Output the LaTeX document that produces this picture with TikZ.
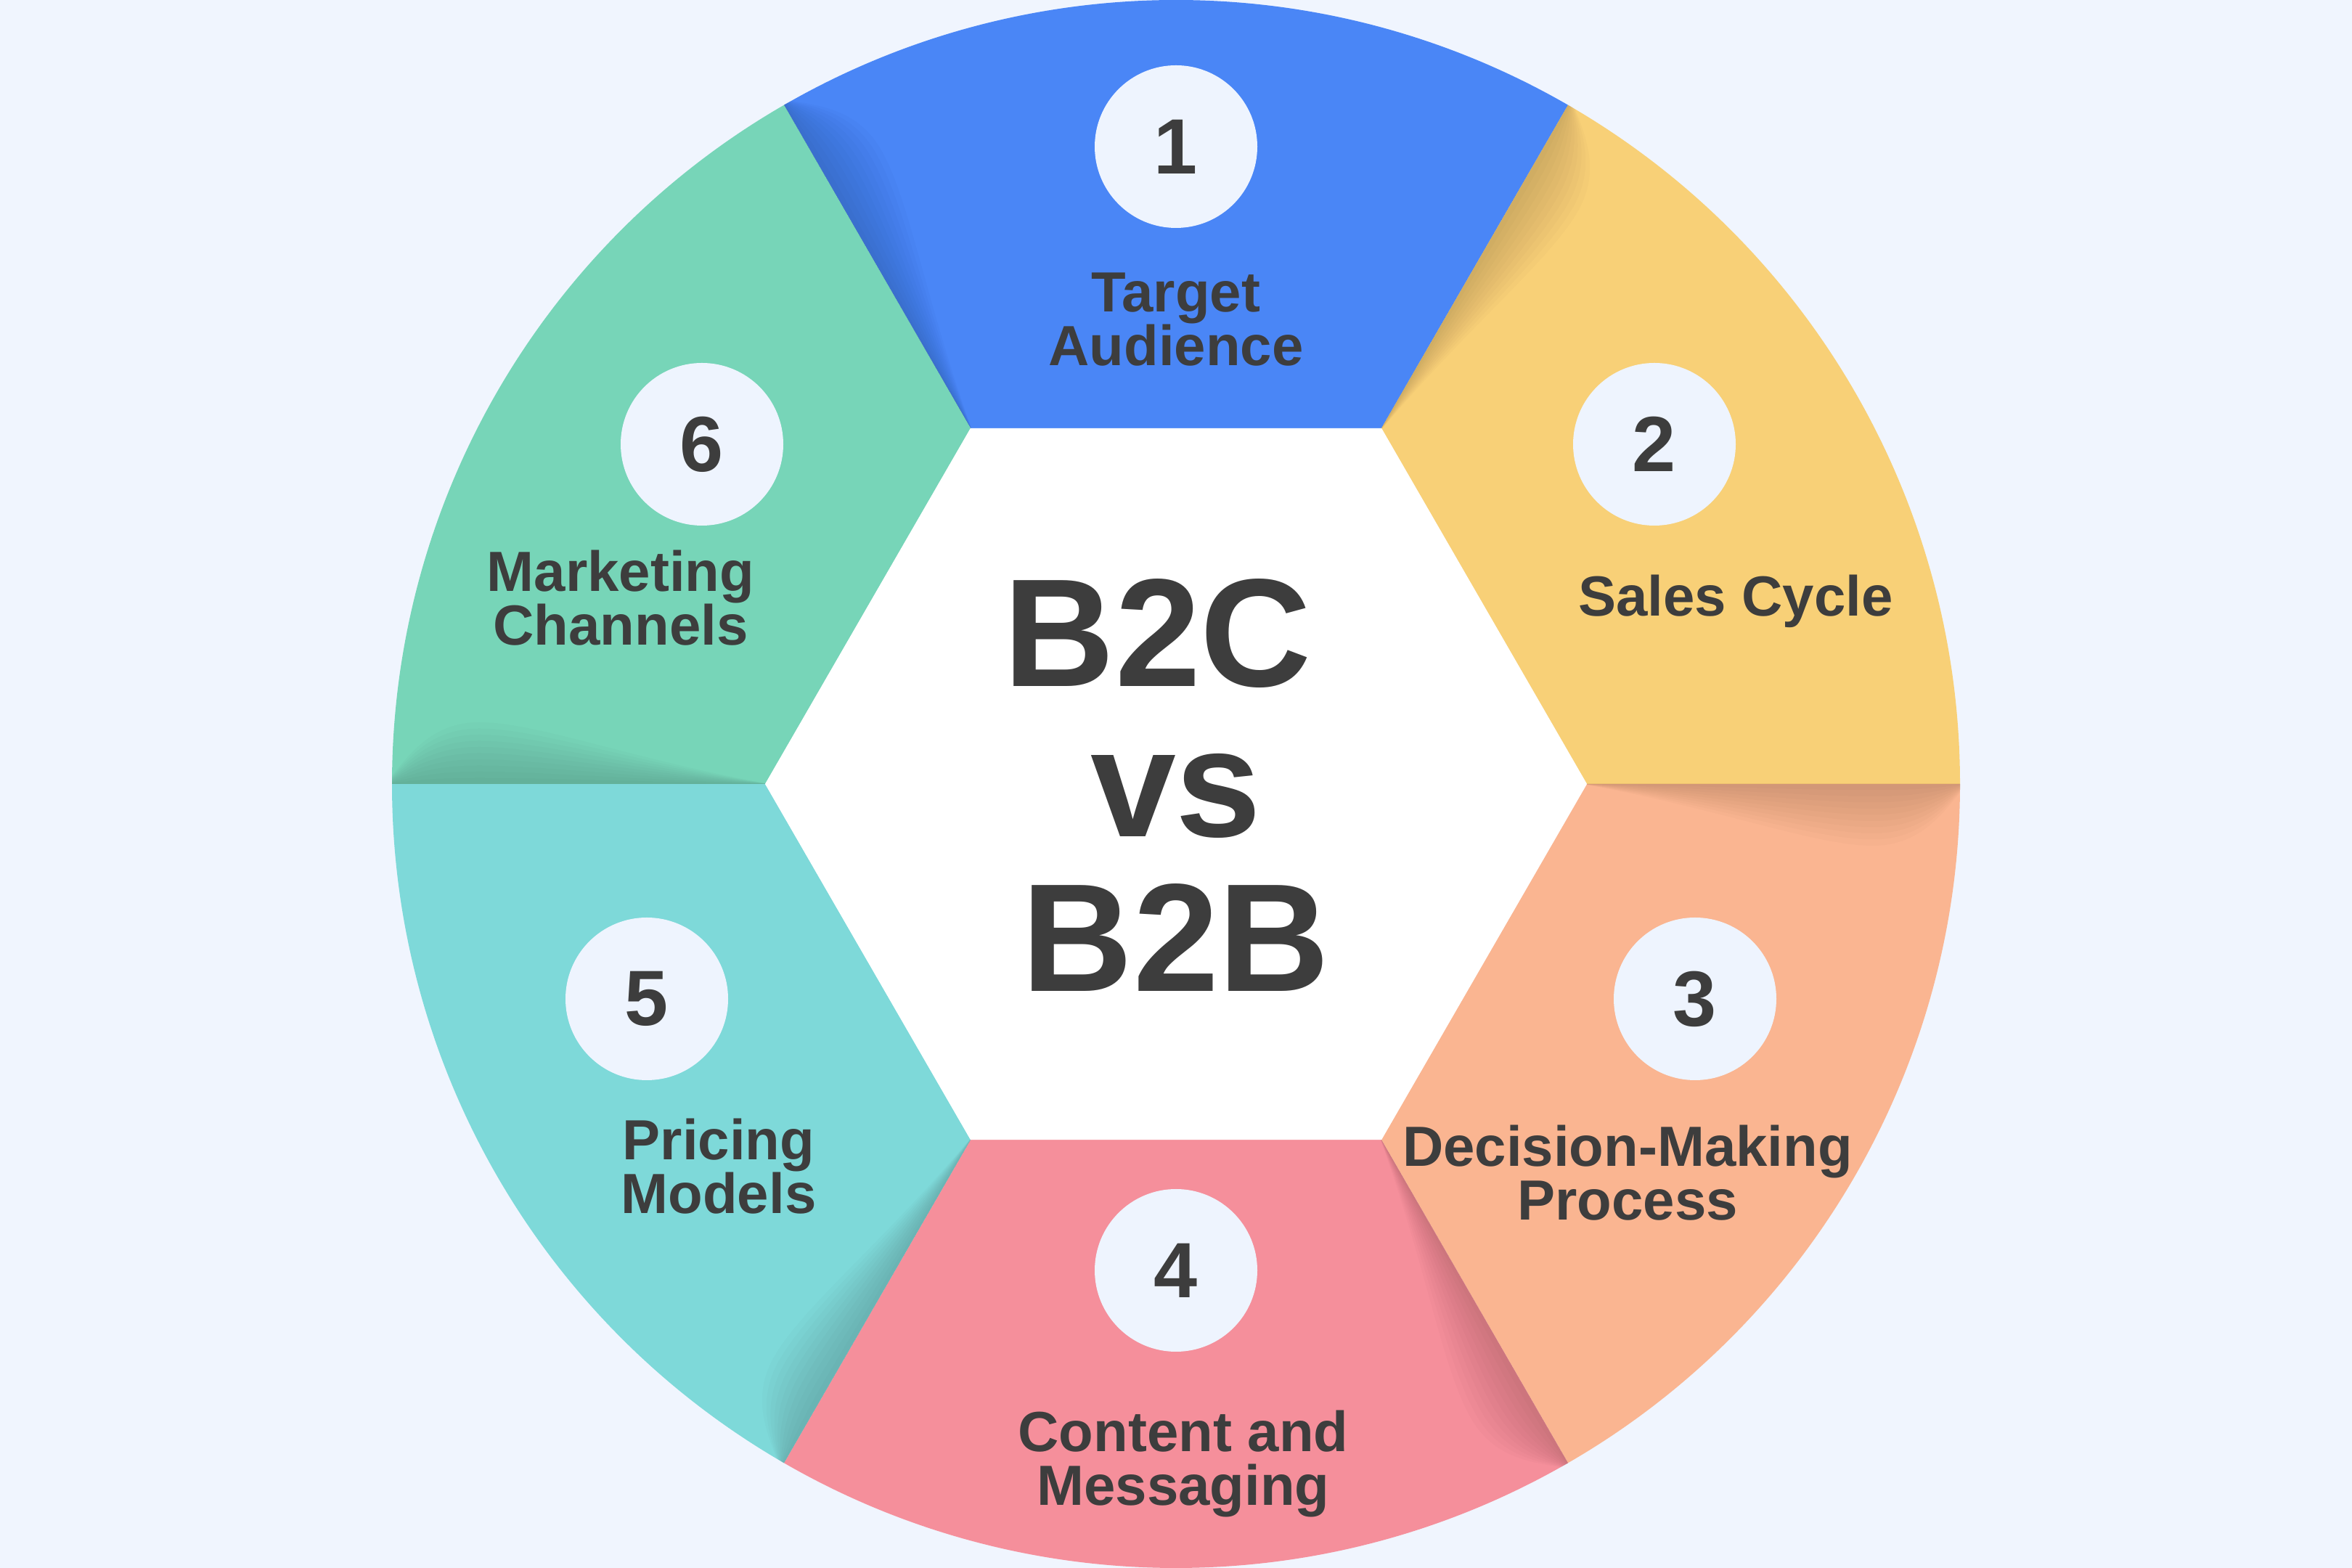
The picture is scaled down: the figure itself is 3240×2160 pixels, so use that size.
\documentclass[tikz,border=0pt]{standalone}
\usepackage{fontspec}
\setmainfont{Liberation Sans}
\definecolor{bg}{HTML}{F0F5FE}
\definecolor{segblue}{HTML}{4A86F6}
\definecolor{segyellow}{HTML}{F8D077}
\definecolor{segorange}{HTML}{FAB591}
\definecolor{segpink}{HTML}{F58F9B}
\definecolor{segteal}{HTML}{7ED9D9}
\definecolor{seggreen}{HTML}{77D5B8}
\definecolor{numbg}{HTML}{EEF4FE}
\definecolor{txt}{HTML}{3D3D3D}
\begin{document}
\begin{tikzpicture}[x=1pt,y=1pt,
  lbl/.style={font=\bfseries\fontsize{78}{74}\selectfont, text=txt, align=center, inner sep=0pt},
  numcirc/.style={circle, fill=numbg, minimum size=224pt, inner sep=0pt, text=txt, font=\bfseries\fontsize{108}{108}\selectfont},
  big/.style={font=\bfseries\fontsize{212}{212}\selectfont, text=txt, inner sep=0pt, anchor=base}]
\useasboundingbox (0,0) rectangle (3240,2160);
\fill[bg] (0,0) rectangle (3240,2160);
\coordinate (O) at (1620,1080);
% segments
\foreach \a/\c in {60/segblue, 0/segyellow, -60/segorange, -120/segpink, 180/segteal, 120/seggreen} {
  \fill[\c] ([shift={(\a:566)}]O) -- ([shift={(\a:1080)}]O) arc[start angle=\a, end angle=\a+60, radius=1080] -- ([shift={(\a+60:566)}]O) -- cycle;
}
% soft shadows on the clockwise side of each boundary
\begin{scope}
  \clip (O) circle (1080);
  \foreach \t in {120,60,0,-60,-120,180} {
    \begin{scope}[shift={(O)}, rotate=\t]
      \foreach \k in {1,...,10} {
        \fill[black, fill opacity=0.017] (560,0) .. controls (750,-0.4*\k*8.5) and (880,-\k*8.5) .. (960,-\k*8.5) .. controls (1030,-\k*8.5) and (1060,-0.4*\k*8.5) .. (1090,0) -- cycle;
      }
    \end{scope}
  }
\end{scope}
% central hexagon
\fill[white] ([shift={(0:566)}]O) -- ([shift={(60:566)}]O) -- ([shift={(120:566)}]O) -- ([shift={(180:566)}]O) -- ([shift={(240:566)}]O) -- ([shift={(300:566)}]O) -- cycle;
% number circles
\node[numcirc] (n1) at (1620,1958) {1};
\node[numcirc] (n2) at (2279,1548) {2};
\node[numcirc] (n3) at (2335,784) {3};
\node[numcirc] (n4) at (1620,410) {4};
\node[numcirc] (n5) at (891,784) {5};
\node[numcirc] (n6) at (967,1548) {6};
% labels
\node[lbl] (l1) at (1620,1720) {Target\\Audience};
\node[lbl] (l2) at (2391,1332) {Sales Cycle};
\node[lbl, font=\bfseries\fontsize{78}{74}\selectfont] (l3) at (2242,544) {Decision-Making\\Process};
\node[lbl] (l4) at (1630,143) {Content and\\Messaging};
\node[lbl] (l5) at (990,553) {Pricing\\Models};
\node[lbl] (l6) at (855,1336) {Marketing\\Channels};
% center title
\node[big] (t1) at (1595,1214) {B2C};
\node[big] (t2) at (1620,1007) {vs};
\node[big] (t3) at (1620,794) {B2B};
\end{tikzpicture}
\end{document}
